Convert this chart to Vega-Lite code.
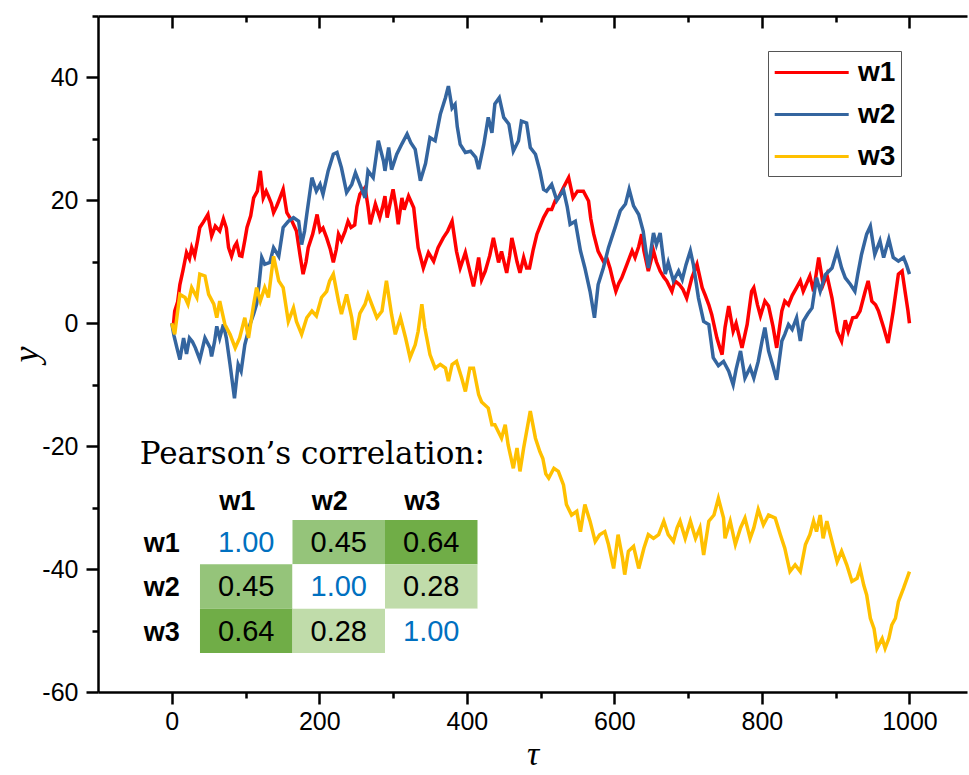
{
  "$schema": "https://vega.github.io/schema/vega-lite/v6.json",
  "width": 869,
  "height": 676,
  "autosize": {"type": "none"},
  "padding": {"left": 98, "top": 16, "right": 2, "bottom": 83},
  "background": "white",
  "config": {"view": {"stroke": null}, "font": "Liberation Sans"},
  "datasets": {
    "walk": [
      {"s":"w1","t":0,"v":0},{"s":"w1","t":2,"v":-0.5},{"s":"w1","t":4,"v":2},{"s":"w1","t":8,"v":3.5},{"s":"w1","t":11,"v":6.3},{"s":"w1","t":15,"v":8.5},{"s":"w1","t":20,"v":11.5},{"s":"w1","t":24,"v":10.5},{"s":"w1","t":27,"v":12.3},{"s":"w1","t":31,"v":11},{"s":"w1","t":35,"v":13.5},{"s":"w1","t":38,"v":15.6},{"s":"w1","t":43,"v":16.5},{"s":"w1","t":49,"v":17.7},{"s":"w1","t":54,"v":14.2},{"s":"w1","t":59,"v":15.8},{"s":"w1","t":65,"v":15},{"s":"w1","t":70,"v":17},{"s":"w1","t":74,"v":15.5},{"s":"w1","t":77,"v":12.3},{"s":"w1","t":81,"v":10.9},{"s":"w1","t":85,"v":12.5},{"s":"w1","t":88,"v":13.1},{"s":"w1","t":92,"v":11},{"s":"w1","t":95,"v":10.9},{"s":"w1","t":99,"v":13.5},{"s":"w1","t":102,"v":15.6},{"s":"w1","t":107,"v":17.5},{"s":"w1","t":111,"v":20.4},{"s":"w1","t":116,"v":21.5},{"s":"w1","t":120,"v":24.8},{"s":"w1","t":124,"v":20.4},{"s":"w1","t":128,"v":21.5},{"s":"w1","t":131,"v":20.7},{"s":"w1","t":135,"v":19.5},{"s":"w1","t":138,"v":18},{"s":"w1","t":142,"v":19},{"s":"w1","t":145,"v":19.9},{"s":"w1","t":151,"v":21.8},{"s":"w1","t":156,"v":18},{"s":"w1","t":160,"v":17.2},{"s":"w1","t":163,"v":16.6},{"s":"w1","t":169,"v":15},{"s":"w1","t":174,"v":11},{"s":"w1","t":178,"v":8},{"s":"w1","t":182,"v":10},{"s":"w1","t":185,"v":12.3},{"s":"w1","t":191,"v":14.5},{"s":"w1","t":197,"v":17.7},{"s":"w1","t":201,"v":15},{"s":"w1","t":205,"v":15.5},{"s":"w1","t":210,"v":13.9},{"s":"w1","t":215,"v":12},{"s":"w1","t":219,"v":9.9},{"s":"w1","t":223,"v":12},{"s":"w1","t":226,"v":14.5},{"s":"w1","t":230,"v":13.5},{"s":"w1","t":235,"v":15},{"s":"w1","t":239,"v":16.6},{"s":"w1","t":243,"v":15.6},{"s":"w1","t":248,"v":16},{"s":"w1","t":251,"v":19},{"s":"w1","t":255,"v":21},{"s":"w1","t":262,"v":22.1},{"s":"w1","t":266,"v":19},{"s":"w1","t":269,"v":16.1},{"s":"w1","t":276,"v":19.4},{"s":"w1","t":282,"v":17.2},{"s":"w1","t":286,"v":19},{"s":"w1","t":289,"v":20.7},{"s":"w1","t":292,"v":17.2},{"s":"w1","t":296,"v":19.5},{"s":"w1","t":300,"v":21.8},{"s":"w1","t":304,"v":19},{"s":"w1","t":307,"v":16.1},{"s":"w1","t":312,"v":20.4},{"s":"w1","t":315,"v":18.5},{"s":"w1","t":321,"v":20.7},{"s":"w1","t":328,"v":18.8},{"s":"w1","t":331,"v":15.5},{"s":"w1","t":334,"v":12.3},{"s":"w1","t":341,"v":9},{"s":"w1","t":348,"v":11.5},{"s":"w1","t":355,"v":10.1},{"s":"w1","t":361,"v":12.3},{"s":"w1","t":368,"v":13.9},{"s":"w1","t":374,"v":15},{"s":"w1","t":380,"v":16.6},{"s":"w1","t":386,"v":11.7},{"s":"w1","t":391,"v":9},{"s":"w1","t":398,"v":11.5},{"s":"w1","t":404,"v":8.5},{"s":"w1","t":409,"v":6},{"s":"w1","t":413,"v":8.5},{"s":"w1","t":416,"v":10.7},{"s":"w1","t":420,"v":7.1},{"s":"w1","t":425,"v":8.5},{"s":"w1","t":431,"v":11},{"s":"w1","t":436,"v":13.9},{"s":"w1","t":443,"v":9.9},{"s":"w1","t":447,"v":11.7},{"s":"w1","t":454,"v":8.2},{"s":"w1","t":458,"v":11},{"s":"w1","t":461,"v":13.9},{"s":"w1","t":464,"v":12.3},{"s":"w1","t":468,"v":10},{"s":"w1","t":472,"v":8.2},{"s":"w1","t":477,"v":10.7},{"s":"w1","t":481,"v":9},{"s":"w1","t":485,"v":9},{"s":"w1","t":490,"v":12},{"s":"w1","t":495,"v":14.5},{"s":"w1","t":500,"v":16},{"s":"w1","t":504,"v":17.2},{"s":"w1","t":510,"v":18.5},{"s":"w1","t":515,"v":18.5},{"s":"w1","t":520,"v":20},{"s":"w1","t":524,"v":20.4},{"s":"w1","t":531,"v":22.1},{"s":"w1","t":538,"v":23.7},{"s":"w1","t":544,"v":20.4},{"s":"w1","t":550,"v":21.5},{"s":"w1","t":558,"v":21.5},{"s":"w1","t":565,"v":19.9},{"s":"w1","t":568,"v":17},{"s":"w1","t":572,"v":14.5},{"s":"w1","t":578,"v":11.7},{"s":"w1","t":585,"v":10.1},{"s":"w1","t":590,"v":10.5},{"s":"w1","t":594,"v":9},{"s":"w1","t":598,"v":7},{"s":"w1","t":602,"v":5.2},{"s":"w1","t":606,"v":6.5},{"s":"w1","t":610,"v":7.4},{"s":"w1","t":617,"v":9.6},{"s":"w1","t":624,"v":11.8},{"s":"w1","t":628,"v":10.7},{"s":"w1","t":633,"v":12.5},{"s":"w1","t":637,"v":14.5},{"s":"w1","t":640,"v":11.8},{"s":"w1","t":646,"v":8.5},{"s":"w1","t":653,"v":11.8},{"s":"w1","t":657,"v":10},{"s":"w1","t":662,"v":8.5},{"s":"w1","t":667,"v":7.5},{"s":"w1","t":671,"v":6.9},{"s":"w1","t":678,"v":5.2},{"s":"w1","t":682,"v":6.9},{"s":"w1","t":688,"v":6.3},{"s":"w1","t":693,"v":5.5},{"s":"w1","t":698,"v":4.1},{"s":"w1","t":705,"v":7.4},{"s":"w1","t":712,"v":9.6},{"s":"w1","t":719,"v":5.8},{"s":"w1","t":723,"v":4.6},{"s":"w1","t":728,"v":3},{"s":"w1","t":732,"v":1.4},{"s":"w1","t":739,"v":-2.4},{"s":"w1","t":743,"v":-4},{"s":"w1","t":746,"v":-5.1},{"s":"w1","t":750,"v":-0.7},{"s":"w1","t":755,"v":2.8},{"s":"w1","t":761,"v":-1.3},{"s":"w1","t":765,"v":0},{"s":"w1","t":773,"v":-4},{"s":"w1","t":780,"v":-0.2},{"s":"w1","t":786,"v":5.2},{"s":"w1","t":789,"v":5.8},{"s":"w1","t":794,"v":3},{"s":"w1","t":798,"v":1.2},{"s":"w1","t":804,"v":3.6},{"s":"w1","t":809,"v":2.8},{"s":"w1","t":815,"v":-0.5},{"s":"w1","t":820,"v":-4},{"s":"w1","t":827,"v":2},{"s":"w1","t":831,"v":3.6},{"s":"w1","t":836,"v":3},{"s":"w1","t":841,"v":4.5},{"s":"w1","t":847,"v":5.8},{"s":"w1","t":852,"v":6.9},{"s":"w1","t":856,"v":5.2},{"s":"w1","t":865,"v":7.7},{"s":"w1","t":870,"v":5.2},{"s":"w1","t":877,"v":10.7},{"s":"w1","t":883,"v":6.3},{"s":"w1","t":888,"v":7.9},{"s":"w1","t":895,"v":4.1},{"s":"w1","t":902,"v":-1.3},{"s":"w1","t":908,"v":-2.9},{"s":"w1","t":913,"v":0.5},{"s":"w1","t":917,"v":-1.3},{"s":"w1","t":923,"v":0.9},{"s":"w1","t":928,"v":1},{"s":"w1","t":933,"v":2},{"s":"w1","t":940,"v":5.2},{"s":"w1","t":944,"v":6.9},{"s":"w1","t":949,"v":3.6},{"s":"w1","t":954,"v":3},{"s":"w1","t":958,"v":2},{"s":"w1","t":965,"v":-0.7},{"s":"w1","t":971,"v":-3.2},{"s":"w1","t":978,"v":2},{"s":"w1","t":985,"v":8},{"s":"w1","t":990,"v":8.5},{"s":"w1","t":994,"v":5.2},{"s":"w1","t":998,"v":2},{"s":"w1","t":1000,"v":0},
      {"s":"w2","t":0,"v":0},{"s":"w2","t":3,"v":-2},{"s":"w2","t":7,"v":-4},{"s":"w2","t":11,"v":-5.9},{"s":"w2","t":16,"v":-2.4},{"s":"w2","t":20,"v":-5},{"s":"w2","t":24,"v":-2.4},{"s":"w2","t":28,"v":-3},{"s":"w2","t":32,"v":-4},{"s":"w2","t":38,"v":-5.9},{"s":"w2","t":45,"v":-2.4},{"s":"w2","t":52,"v":-4},{"s":"w2","t":54,"v":-5.4},{"s":"w2","t":58,"v":-3},{"s":"w2","t":61,"v":-0.5},{"s":"w2","t":65,"v":-2.4},{"s":"w2","t":70,"v":-0.2},{"s":"w2","t":74,"v":-2.4},{"s":"w2","t":79,"v":-6.7},{"s":"w2","t":85,"v":-12.2},{"s":"w2","t":90,"v":-6.7},{"s":"w2","t":94,"v":-7.8},{"s":"w2","t":99,"v":-3.5},{"s":"w2","t":106,"v":-0.2},{"s":"w2","t":111,"v":1.5},{"s":"w2","t":115,"v":3.1},{"s":"w2","t":118,"v":6},{"s":"w2","t":122,"v":10.7},{"s":"w2","t":126,"v":9.6},{"s":"w2","t":133,"v":9.9},{"s":"w2","t":138,"v":12.3},{"s":"w2","t":145,"v":10.9},{"s":"w2","t":151,"v":15.6},{"s":"w2","t":158,"v":16.6},{"s":"w2","t":165,"v":17.2},{"s":"w2","t":172,"v":16.6},{"s":"w2","t":176,"v":12.8},{"s":"w2","t":180,"v":15},{"s":"w2","t":183,"v":17.7},{"s":"w2","t":190,"v":23.7},{"s":"w2","t":196,"v":21.5},{"s":"w2","t":201,"v":22.6},{"s":"w2","t":205,"v":21},{"s":"w2","t":212,"v":24.8},{"s":"w2","t":219,"v":27.5},{"s":"w2","t":224,"v":27.8},{"s":"w2","t":230,"v":25.3},{"s":"w2","t":237,"v":21.3},{"s":"w2","t":244,"v":22.6},{"s":"w2","t":249,"v":24.5},{"s":"w2","t":255,"v":22.6},{"s":"w2","t":262,"v":20.4},{"s":"w2","t":266,"v":24.8},{"s":"w2","t":273,"v":23.7},{"s":"w2","t":280,"v":29.7},{"s":"w2","t":287,"v":26.4},{"s":"w2","t":289,"v":24.8},{"s":"w2","t":294,"v":28.6},{"s":"w2","t":298,"v":25},{"s":"w2","t":305,"v":27.5},{"s":"w2","t":312,"v":29.2},{"s":"w2","t":319,"v":30.8},{"s":"w2","t":324,"v":29.4},{"s":"w2","t":330,"v":28.3},{"s":"w2","t":337,"v":23.2},{"s":"w2","t":344,"v":26},{"s":"w2","t":350,"v":30.2},{"s":"w2","t":357,"v":29.7},{"s":"w2","t":364,"v":34},{"s":"w2","t":371,"v":36.7},{"s":"w2","t":375,"v":38.6},{"s":"w2","t":380,"v":35},{"s":"w2","t":384,"v":35.6},{"s":"w2","t":387,"v":32},{"s":"w2","t":391,"v":29.1},{"s":"w2","t":398,"v":27.8},{"s":"w2","t":405,"v":28},{"s":"w2","t":412,"v":27},{"s":"w2","t":416,"v":25.1},{"s":"w2","t":423,"v":29.1},{"s":"w2","t":429,"v":33.5},{"s":"w2","t":434,"v":31},{"s":"w2","t":438,"v":35.7},{"s":"w2","t":444,"v":36.7},{"s":"w2","t":450,"v":33.5},{"s":"w2","t":457,"v":32.4},{"s":"w2","t":463,"v":28},{"s":"w2","t":470,"v":29.7},{"s":"w2","t":474,"v":32.9},{"s":"w2","t":481,"v":32.6},{"s":"w2","t":486,"v":28.6},{"s":"w2","t":493,"v":27.5},{"s":"w2","t":499,"v":24.8},{"s":"w2","t":504,"v":21.8},{"s":"w2","t":508,"v":21.5},{"s":"w2","t":515,"v":22.6},{"s":"w2","t":522,"v":20},{"s":"w2","t":531,"v":21.7},{"s":"w2","t":536,"v":19},{"s":"w2","t":540,"v":16.1},{"s":"w2","t":547,"v":16.6},{"s":"w2","t":554,"v":11.8},{"s":"w2","t":560,"v":9},{"s":"w2","t":567,"v":5.2},{"s":"w2","t":573,"v":0.9},{"s":"w2","t":578,"v":6.3},{"s":"w2","t":585,"v":9},{"s":"w2","t":592,"v":12.3},{"s":"w2","t":601,"v":15.6},{"s":"w2","t":608,"v":18.3},{"s":"w2","t":615,"v":19.4},{"s":"w2","t":620,"v":21.8},{"s":"w2","t":626,"v":19.1},{"s":"w2","t":633,"v":17.7},{"s":"w2","t":639,"v":15},{"s":"w2","t":646,"v":9},{"s":"w2","t":653,"v":14.7},{"s":"w2","t":657,"v":12.8},{"s":"w2","t":662,"v":14.7},{"s":"w2","t":669,"v":8},{"s":"w2","t":673,"v":9.9},{"s":"w2","t":680,"v":6.9},{"s":"w2","t":687,"v":8.5},{"s":"w2","t":692,"v":7.1},{"s":"w2","t":697,"v":9.5},{"s":"w2","t":703,"v":11.8},{"s":"w2","t":707,"v":9.6},{"s":"w2","t":714,"v":4.1},{"s":"w2","t":721,"v":0.3},{"s":"w2","t":728,"v":-0.2},{"s":"w2","t":734,"v":-5.6},{"s":"w2","t":741,"v":-6.9},{"s":"w2","t":748,"v":-6.2},{"s":"w2","t":755,"v":-7.8},{"s":"w2","t":761,"v":-10},{"s":"w2","t":765,"v":-7.5},{"s":"w2","t":771,"v":-4.5},{"s":"w2","t":777,"v":-8.9},{"s":"w2","t":784,"v":-7.2},{"s":"w2","t":789,"v":-8.9},{"s":"w2","t":795,"v":-6.2},{"s":"w2","t":800,"v":-3},{"s":"w2","t":804,"v":-0.7},{"s":"w2","t":809,"v":-4.5},{"s":"w2","t":815,"v":-7},{"s":"w2","t":820,"v":-9.2},{"s":"w2","t":827,"v":-2.9},{"s":"w2","t":831,"v":-1.8},{"s":"w2","t":836,"v":-0.2},{"s":"w2","t":841,"v":-1},{"s":"w2","t":847,"v":0.9},{"s":"w2","t":852,"v":-2.9},{"s":"w2","t":856,"v":0.3},{"s":"w2","t":862,"v":1.5},{"s":"w2","t":868,"v":2.5},{"s":"w2","t":874,"v":7.4},{"s":"w2","t":879,"v":5.2},{"s":"w2","t":886,"v":7.9},{"s":"w2","t":895,"v":9},{"s":"w2","t":902,"v":11.8},{"s":"w2","t":908,"v":9},{"s":"w2","t":913,"v":7.4},{"s":"w2","t":920,"v":6.3},{"s":"w2","t":926,"v":5.2},{"s":"w2","t":930,"v":8},{"s":"w2","t":935,"v":11.2},{"s":"w2","t":942,"v":14.5},{"s":"w2","t":947,"v":15.8},{"s":"w2","t":953,"v":11.2},{"s":"w2","t":960,"v":13.4},{"s":"w2","t":965,"v":10.7},{"s":"w2","t":972,"v":13.7},{"s":"w2","t":978,"v":10.7},{"s":"w2","t":985,"v":10.1},{"s":"w2","t":992,"v":10.7},{"s":"w2","t":996,"v":9.5},{"s":"w2","t":1000,"v":8},
      {"s":"w3","t":0,"v":0},{"s":"w3","t":4,"v":-1.8},{"s":"w3","t":8,"v":2},{"s":"w3","t":11,"v":4.7},{"s":"w3","t":18,"v":4.2},{"s":"w3","t":22,"v":3.1},{"s":"w3","t":27,"v":5.8},{"s":"w3","t":34,"v":4.2},{"s":"w3","t":38,"v":8},{"s":"w3","t":45,"v":7.7},{"s":"w3","t":50,"v":4.7},{"s":"w3","t":57,"v":3.1},{"s":"w3","t":61,"v":0.9},{"s":"w3","t":65,"v":3.6},{"s":"w3","t":72,"v":-0.2},{"s":"w3","t":79,"v":-1.8},{"s":"w3","t":86,"v":-4},{"s":"w3","t":92,"v":-2.4},{"s":"w3","t":99,"v":0.9},{"s":"w3","t":104,"v":-2.4},{"s":"w3","t":111,"v":3.1},{"s":"w3","t":115,"v":5.8},{"s":"w3","t":120,"v":3.6},{"s":"w3","t":126,"v":5.8},{"s":"w3","t":131,"v":4.2},{"s":"w3","t":138,"v":10.9},{"s":"w3","t":145,"v":6.9},{"s":"w3","t":151,"v":5.8},{"s":"w3","t":158,"v":0.3},{"s":"w3","t":165,"v":2.5},{"s":"w3","t":169,"v":0.3},{"s":"w3","t":176,"v":-1.8},{"s":"w3","t":183,"v":0.9},{"s":"w3","t":190,"v":2},{"s":"w3","t":196,"v":1.2},{"s":"w3","t":203,"v":4.2},{"s":"w3","t":210,"v":5.2},{"s":"w3","t":214,"v":6.9},{"s":"w3","t":219,"v":8},{"s":"w3","t":226,"v":3.6},{"s":"w3","t":230,"v":1.5},{"s":"w3","t":237,"v":4.7},{"s":"w3","t":244,"v":0.9},{"s":"w3","t":248,"v":-2.7},{"s":"w3","t":255,"v":1.6},{"s":"w3","t":262,"v":3.1},{"s":"w3","t":266,"v":4.7},{"s":"w3","t":271,"v":3.1},{"s":"w3","t":278,"v":0.9},{"s":"w3","t":285,"v":2},{"s":"w3","t":291,"v":6.9},{"s":"w3","t":298,"v":1.4},{"s":"w3","t":303,"v":-1.8},{"s":"w3","t":310,"v":0.9},{"s":"w3","t":317,"v":-2.4},{"s":"w3","t":323,"v":-5.6},{"s":"w3","t":330,"v":-3.5},{"s":"w3","t":334,"v":-1.3},{"s":"w3","t":339,"v":3.1},{"s":"w3","t":343,"v":-0.7},{"s":"w3","t":350,"v":-5.1},{"s":"w3","t":357,"v":-7.3},{"s":"w3","t":364,"v":-6.7},{"s":"w3","t":371,"v":-7.3},{"s":"w3","t":375,"v":-9.4},{"s":"w3","t":380,"v":-6.7},{"s":"w3","t":386,"v":-6.2},{"s":"w3","t":393,"v":-8.9},{"s":"w3","t":398,"v":-11.1},{"s":"w3","t":404,"v":-7.3},{"s":"w3","t":409,"v":-7.3},{"s":"w3","t":416,"v":-11.6},{"s":"w3","t":420,"v":-12.8},{"s":"w3","t":429,"v":-13.8},{"s":"w3","t":434,"v":-16.5},{"s":"w3","t":438,"v":-16.5},{"s":"w3","t":447,"v":-18.7},{"s":"w3","t":452,"v":-16.5},{"s":"w3","t":456,"v":-19.8},{"s":"w3","t":463,"v":-23.6},{"s":"w3","t":468,"v":-20.3},{"s":"w3","t":472,"v":-24.1},{"s":"w3","t":477,"v":-20.3},{"s":"w3","t":486,"v":-14.3},{"s":"w3","t":493,"v":-18.7},{"s":"w3","t":499,"v":-20.9},{"s":"w3","t":503,"v":-22},{"s":"w3","t":507,"v":-24.5},{"s":"w3","t":511,"v":-25.2},{"s":"w3","t":518,"v":-23.6},{"s":"w3","t":524,"v":-24.1},{"s":"w3","t":531,"v":-26.3},{"s":"w3","t":535,"v":-29.5},{"s":"w3","t":542,"v":-31.2},{"s":"w3","t":549,"v":-30.6},{"s":"w3","t":554,"v":-33.9},{"s":"w3","t":560,"v":-29.5},{"s":"w3","t":567,"v":-32.2},{"s":"w3","t":574,"v":-35.5},{"s":"w3","t":580,"v":-34.4},{"s":"w3","t":587,"v":-33.9},{"s":"w3","t":592,"v":-36},{"s":"w3","t":599,"v":-39.9},{"s":"w3","t":605,"v":-34.4},{"s":"w3","t":611,"v":-38.2},{"s":"w3","t":614,"v":-40.9},{"s":"w3","t":619,"v":-37.1},{"s":"w3","t":626,"v":-36.3},{"s":"w3","t":633,"v":-39.9},{"s":"w3","t":640,"v":-36.6},{"s":"w3","t":646,"v":-34.4},{"s":"w3","t":653,"v":-35},{"s":"w3","t":660,"v":-34.4},{"s":"w3","t":667,"v":-32.2},{"s":"w3","t":673,"v":-34.4},{"s":"w3","t":680,"v":-35.5},{"s":"w3","t":685,"v":-33.3},{"s":"w3","t":689,"v":-32.2},{"s":"w3","t":696,"v":-35},{"s":"w3","t":703,"v":-32.2},{"s":"w3","t":710,"v":-35},{"s":"w3","t":716,"v":-33.3},{"s":"w3","t":721,"v":-37.7},{"s":"w3","t":728,"v":-32.2},{"s":"w3","t":735,"v":-31.2},{"s":"w3","t":741,"v":-28.5},{"s":"w3","t":748,"v":-31.7},{"s":"w3","t":750,"v":-35},{"s":"w3","t":757,"v":-32.2},{"s":"w3","t":764,"v":-36},{"s":"w3","t":771,"v":-33.3},{"s":"w3","t":777,"v":-31.7},{"s":"w3","t":784,"v":-35},{"s":"w3","t":789,"v":-33.3},{"s":"w3","t":795,"v":-30.3},{"s":"w3","t":802,"v":-32.8},{"s":"w3","t":809,"v":-31.2},{"s":"w3","t":818,"v":-31.7},{"s":"w3","t":825,"v":-34.4},{"s":"w3","t":831,"v":-36.6},{"s":"w3","t":838,"v":-40.4},{"s":"w3","t":845,"v":-39.3},{"s":"w3","t":852,"v":-40.4},{"s":"w3","t":859,"v":-36},{"s":"w3","t":865,"v":-34.4},{"s":"w3","t":870,"v":-32.2},{"s":"w3","t":874,"v":-33.9},{"s":"w3","t":879,"v":-31.2},{"s":"w3","t":883,"v":-35},{"s":"w3","t":888,"v":-32.2},{"s":"w3","t":895,"v":-35.5},{"s":"w3","t":902,"v":-38.8},{"s":"w3","t":908,"v":-37.1},{"s":"w3","t":915,"v":-39.3},{"s":"w3","t":922,"v":-42},{"s":"w3","t":929,"v":-41.5},{"s":"w3","t":933,"v":-39.9},{"s":"w3","t":938,"v":-42.6},{"s":"w3","t":942,"v":-44.2},{"s":"w3","t":947,"v":-48},{"s":"w3","t":952,"v":-49.7},{"s":"w3","t":956,"v":-52.9},{"s":"w3","t":963,"v":-51.3},{"s":"w3","t":967,"v":-52.9},{"s":"w3","t":972,"v":-51.3},{"s":"w3","t":976,"v":-49.1},{"s":"w3","t":981,"v":-48},{"s":"w3","t":985,"v":-45.3},{"s":"w3","t":992,"v":-43.1},{"s":"w3","t":1000,"v":-40.4}
    ],
    "corr": [
      {"row":"w1","col":"w1","r":1.0},{"row":"w1","col":"w2","r":0.45},{"row":"w1","col":"w3","r":0.64},
      {"row":"w2","col":"w1","r":0.45},{"row":"w2","col":"w2","r":1.0},{"row":"w2","col":"w3","r":0.28},
      {"row":"w3","col":"w1","r":0.64},{"row":"w3","col":"w2","r":0.28},{"row":"w3","col":"w3","r":1.0}
    ],
    "names": [{"k":"w1"},{"k":"w2"},{"k":"w3"}],
    "caption": [{"t":"Pearson’s correlation:"}]
  },
  "layer": [
    {
      "data": {"name": "walk"},
      "layer": [
        {
          "mark": {"type": "line", "strokeWidth": 3.5},
          "encoding": {
            "x": {
              "field": "t", "type": "quantitative",
              "scale": {"domain": [-100, 1078], "nice": false, "zero": false},
              "axis": {
                "orient": "bottom",
                "values": [0,200,400,600,800,1000],
                "format": "d",
                "tickSize": 12, "tickWidth": 2.5, "tickColor": "black",
                "domainColor": "black", "domainWidth": 2.5,
                "labelFont": "Liberation Sans", "labelFontSize": 25, "labelColor": "black",
                "labelPadding": 5, "labelOverlap": false, "grid": false,
                "title": "τ", "titleFont": "Liberation Serif", "titleFontStyle": "italic",
                "titleFontWeight": "normal", "titleFontSize": 34, "titleColor": "black", "titlePadding": 3
              }
            },
            "y": {
              "field": "v", "type": "quantitative",
              "scale": {"domain": [-60, 50], "nice": false, "zero": false},
              "axis": {
                "orient": "left",
                "values": [-60,-40,-20,0,20,40],
                "labelExpr": "toString(datum.value)",
                "tickSize": 12, "tickWidth": 2.5, "tickColor": "black",
                "domainColor": "black", "domainWidth": 2.5,
                "labelFont": "Liberation Sans", "labelFontSize": 25, "labelColor": "black",
                "labelPadding": 8, "labelOverlap": false, "grid": false,
                "title": "y", "titleFont": "Liberation Serif", "titleFontStyle": "italic",
                "titleFontWeight": "normal", "titleFontSize": 36, "titleColor": "black", "titlePadding": -4
              }
            },
            "color": {
              "field": "s", "type": "nominal",
              "scale": {"domain": ["w1","w2","w3"], "range": ["#FF0000","#34659F","#FFC000"]},
              "legend": {
                "title": null, "orient": "none", "legendX": 670, "legendY": 35,
                "symbolType": "M-1,0H4", "symbolSize": 876, "symbolStrokeWidth": 3,
                "labelFont": "Liberation Sans", "labelFontSize": 28, "labelFontWeight": "bold",
                "labelColor": "black", "labelOffset": 52,
                "strokeColor": "#555555", "fillColor": "white", "padding": 5, "rowPadding": 11
              }
            }
          }
        },
        {
          "mark": {"type": "line", "opacity": 0},
          "encoding": {
            "x": {
              "field": "t", "type": "quantitative",
              "axis": {
                "orient": "bottom", "values": [100,300,500,700,900],
                "labels": false, "domain": false, "title": null, "grid": false,
                "tickSize": 6, "tickWidth": 2.5, "tickColor": "black"
              }
            },
            "y": {
              "field": "v", "type": "quantitative",
              "axis": {
                "orient": "left", "values": [-50,-30,-10,10,30,50],
                "labels": false, "domain": false, "title": null, "grid": false,
                "tickSize": 6, "tickWidth": 2.5, "tickColor": "black"
              }
            }
          }
        },
        {
          "mark": {"type": "line", "opacity": 0},
          "encoding": {
            "x": {
              "field": "t", "type": "quantitative",
              "axis": {
                "orient": "bottom", "offset": -676, "values": [0,200,400,600,800,1000],
                "labels": false, "domain": true, "title": null, "grid": false,
                "tickSize": 12, "tickWidth": 2.5, "tickColor": "black",
                "domainColor": "black", "domainWidth": 2.5
              }
            },
            "y": {"field": "v", "type": "quantitative", "axis": null}
          }
        },
        {
          "mark": {"type": "line", "opacity": 0},
          "encoding": {
            "x": {
              "field": "t", "type": "quantitative",
              "axis": {
                "orient": "bottom", "offset": -676, "values": [100,300,500,700,900],
                "labels": false, "domain": false, "title": null, "grid": false,
                "tickSize": 6, "tickWidth": 2.5, "tickColor": "black"
              }
            },
            "y": {"field": "v", "type": "quantitative", "axis": null}
          }
        }
      ],
      "resolve": {"axis": {"x": "independent", "y": "independent"}}
    },
    {
      "layer": [
        {
          "data": {"name": "corr"},
          "mark": {"type": "rect"},
          "encoding": {
            "x": {"field": "col", "type": "nominal", "axis": null,
                  "scale": {"type": "band", "domain": ["lab","w1","w2","w3","sp1","sp2","sp3","sp4","sp5"], "paddingInner": 0, "paddingOuter": 0.197, "align": 0.26}},
            "y": {"field": "row", "type": "nominal", "axis": null,
                  "scale": {"type": "band", "domain": ["sp1","sp2","sp3","sp4","sp5","sp6","sp7","sp8","sp9","title","hdr","w1","w2","w3"], "paddingInner": 0, "paddingOuter": 0.63, "align": 0.3}},
            "fill": {"field": "r", "type": "ordinal", "legend": null,
                     "scale": {"domain": [0.28, 0.45, 0.64, 1], "range": ["#C0DCAA","#95C47A","#70AD47","#FFFFFF"]}}
          }
        },
        {
          "data": {"name": "corr"},
          "mark": {"type": "text", "font": "Liberation Sans", "fontSize": 29, "baseline": "middle", "dy": 1},
          "encoding": {
            "x": {"field": "col", "type": "nominal"},
            "y": {"field": "row", "type": "nominal"},
            "text": {"field": "r", "type": "quantitative", "format": ".2f"},
            "color": {"condition": {"test": "datum.r == 1", "value": "#0070C0"}, "value": "black"}
          }
        },
        {
          "data": {"name": "names"},
          "mark": {"type": "text", "font": "Liberation Sans", "fontSize": 27, "fontWeight": "bold", "baseline": "middle", "dx": -9, "dy": 4, "color": "black"},
          "encoding": {
            "x": {"field": "k", "type": "nominal"},
            "y": {"datum": "hdr", "type": "nominal"},
            "text": {"field": "k"}
          }
        },
        {
          "data": {"name": "names"},
          "mark": {"type": "text", "font": "Liberation Sans", "fontSize": 27, "fontWeight": "bold", "baseline": "middle", "align": "left", "dx": -10, "dy": 2, "color": "black"},
          "encoding": {
            "x": {"datum": "lab", "type": "nominal"},
            "y": {"field": "k", "type": "nominal"},
            "text": {"field": "k"}
          }
        },
        {
          "data": {"name": "caption"},
          "mark": {"type": "text", "font": "DejaVu Serif", "fontSize": 31, "align": "left", "baseline": "alphabetic", "dx": -14, "dy": 10, "color": "black"},
          "encoding": {
            "x": {"datum": "lab", "type": "nominal"},
            "y": {"datum": "title", "type": "nominal"},
            "text": {"field": "t"}
          }
        }
      ]
    }
  ],
  "resolve": {"scale": {"x": "independent", "y": "independent"}}
}
